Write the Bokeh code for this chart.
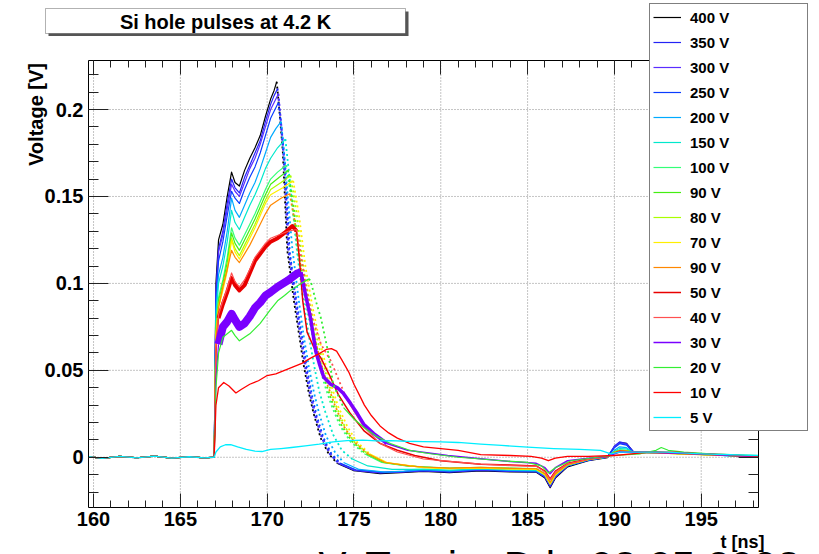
import math
from bokeh.plotting import figure
from bokeh.models import (Range1d, LinearAxis, SingleIntervalTicker, CustomJSTickFormatter,
                          Label, BoxAnnotation, Legend, LegendItem)
from bokeh.embed import file_html
from bokeh.resources import INLINE

# ---------------- data ----------------
LABELS = ["400 V", "350 V", "300 V", "250 V", "200 V", "150 V", "100 V", "90 V", "80 V",
          "70 V", "90 V", "50 V", "40 V", "30 V", "20 V", "10 V", "5 V"]
COLORS = ["#000000", "#2323f5", "#5a2dff", "#0a3cff", "#00aaff", "#00e8cc", "#33ff77", "#44ee11",
          "#aaff00", "#ffee00", "#ff8800", "#e80000", "#ff5050", "#7a00ff", "#33ee33", "#ff0000", "#00eeff"]

X_TICKS = [160, 165, 170, 175, 180, 185, 190, 195]
Y_TICKS = [0.0, 0.05, 0.1, 0.15, 0.2]

BASE_T = [159.71, 160.5, 161.5, 162.5, 163.5, 164.5, 165.5, 166.4, 166.9]
BASE_V = [0.0004, -0.0006, 0.0005, -0.0003, 0.0006, -0.0005, 0.0003, -0.0004, 0.0]

PT = [166.95, 167.05, 167.2, 167.45, 167.7, 167.95, 168.15, 168.4, 168.7, 169.0, 169.3, 169.6, 169.9, 170.2]
TA = [179.0, 180.5, 182.3, 184.0, 185.5, 186.0, 186.3, 186.6, 187.3, 188.5, 189.6, 190.0, 190.3,
      190.7, 191.1, 192.0, 193.5, 195.0, 196.5, 198.3]

T400 = PT + [170.4, 170.55, 170.7, 170.9, 171.16, 171.54, 171.83, 172.12, 172.4, 172.68, 173.08, 173.54, 174.05, 175.0, 176.5, 177.7] + TA
V400 = [0.0, 0.100, 0.125, 0.134, 0.150, 0.164, 0.158, 0.156, 0.165, 0.172, 0.178, 0.185, 0.196, 0.206,
        0.211, 0.216, 0.200, 0.176, 0.119, 0.090, 0.071, 0.052, 0.037, 0.025, 0.011, 0.002, -0.0036, -0.0077, -0.0094, -0.0088,
        -0.0082, -0.0088, -0.0078, -0.0084, -0.0086, -0.012, -0.0175, -0.012, -0.0055, -0.002, -0.0002, 0.006, 0.0085, 0.008,
        0.003, 0.003, 0.0025, 0.002, 0.0012, 0.0005]

T350 = PT + [170.4, 170.6, 170.75, 170.95, 171.2, 171.6, 171.9, 172.2, 172.45, 172.75, 173.15, 173.6, 174.1, 175.0, 176.5, 177.7] + TA
V350 = [0.0, 0.095, 0.120, 0.130, 0.146, 0.160, 0.155, 0.152, 0.161, 0.168, 0.175, 0.182, 0.193, 0.203,
        0.208, 0.212, 0.196, 0.172, 0.120, 0.090, 0.070, 0.051, 0.037, 0.024, 0.011, 0.002, -0.0035, -0.0075, -0.009, -0.0085,
        -0.0078, -0.0085, -0.0075, -0.0082, -0.0084, -0.0115, -0.017, -0.0115, -0.005, -0.0018, 0.0, 0.0065, 0.0088, 0.0078,
        0.0032, 0.0028, 0.0024, 0.0018, 0.001, 0.0004]

T300 = PT + [170.45, 170.65, 170.8, 171.0, 171.25, 171.65, 171.95, 172.25, 172.5, 172.8, 173.2, 173.65, 174.15, 175.05, 176.5, 177.7] + TA
V300 = [0.0, 0.093, 0.118, 0.128, 0.143, 0.157, 0.153, 0.150, 0.158, 0.166, 0.172, 0.180, 0.190, 0.200,
        0.205, 0.209, 0.193, 0.170, 0.120, 0.090, 0.070, 0.051, 0.037, 0.024, 0.011, 0.002, -0.0034, -0.0074, -0.0088, -0.0084,
        -0.0076, -0.0083, -0.0072, -0.0080, -0.0082, -0.011, -0.0165, -0.011, -0.005, -0.0016, 0.0002, 0.006, 0.0082, 0.0074,
        0.003, 0.003, 0.0022, 0.0017, 0.001, 0.0003]

T250 = PT + [170.45, 170.65, 170.85, 171.05, 171.3, 171.7, 172.0, 172.3, 172.55, 172.85, 173.25, 173.7, 174.2, 175.1, 176.6, 177.8] + TA
V250 = [0.0, 0.090, 0.113, 0.124, 0.139, 0.153, 0.149, 0.146, 0.154, 0.161, 0.167, 0.175, 0.185, 0.195,
        0.200, 0.204, 0.188, 0.166, 0.118, 0.089, 0.070, 0.051, 0.037, 0.024, 0.011, 0.002, -0.0033, -0.0072, -0.0086, -0.0082,
        -0.0074, -0.008, -0.007, -0.0078, -0.008, -0.0105, -0.016, -0.0105, -0.0048, -0.0015, 0.0003, 0.0055, 0.0078, 0.007,
        0.0028, 0.0028, 0.0022, 0.0016, 0.0009, 0.0003]

T200 = PT + [170.5, 170.8, 171.1, 171.45, 171.8, 172.1, 172.4, 172.7, 173.0, 173.4, 173.9, 174.4, 175.3, 176.8, 177.9] + TA
V200 = [0.0, 0.085, 0.105, 0.115, 0.130, 0.149, 0.142, 0.138, 0.145, 0.152, 0.158, 0.166, 0.175, 0.184,
        0.189, 0.193, 0.160, 0.120, 0.092, 0.070, 0.052, 0.037, 0.025, 0.012, 0.003, -0.003, -0.007, -0.0085, -0.008,
        -0.0072, -0.0078, -0.0068, -0.0075, -0.0078, -0.0105, -0.0155, -0.0105, -0.0048, -0.0015, 0.0, 0.004, 0.006, 0.0055,
        0.0028, 0.0027, 0.0022, 0.0016, 0.0009, 0.0003]

T150 = PT + [170.6, 171.05, 171.35, 171.7, 172.05, 172.4, 172.7, 173.0, 173.35, 173.8, 174.3, 174.9, 175.8, 177.2, 178.3] + TA
V150 = [0.0, 0.080, 0.100, 0.110, 0.124, 0.142, 0.135, 0.131, 0.138, 0.145, 0.151, 0.158, 0.166, 0.172,
        0.178, 0.183, 0.155, 0.120, 0.092, 0.070, 0.053, 0.038, 0.026, 0.013, 0.004, -0.001, -0.005, -0.007, -0.007,
        -0.0068, -0.0074, -0.0066, -0.0072, -0.0076, -0.010, -0.015, -0.010, -0.0045, -0.0014, 0.0, 0.0035, 0.005, 0.0048,
        0.0028, 0.0027, 0.0022, 0.0016, 0.0009, 0.0003]

T100 = PT + [170.6, 171.1, 171.45, 171.8, 172.2, 172.6, 172.95, 173.3, 173.7, 174.2, 174.8, 175.6, 176.6, 178.0] + TA
V100 = [0.0, 0.075, 0.092, 0.102, 0.115, 0.132, 0.126, 0.122, 0.128, 0.134, 0.140, 0.147, 0.154, 0.160,
        0.164, 0.168, 0.145, 0.115, 0.090, 0.070, 0.055, 0.042, 0.030, 0.018, 0.009, 0.002, -0.003, -0.005,
        -0.0055, -0.0062, -0.0058, -0.0062, -0.0065, -0.0095, -0.0145, -0.0095, -0.004, -0.0012, 0.0005, 0.003, 0.0042, 0.004,
        0.003, 0.0028, 0.0022, 0.0017, 0.001, 0.0004]

T90A = PT + [170.7, 171.2, 171.55, 171.9, 172.3, 172.7, 173.05, 173.4, 173.8, 174.3, 174.9, 175.7, 176.7, 178.1] + TA
V90A = [0.0, 0.073, 0.090, 0.100, 0.112, 0.129, 0.123, 0.119, 0.125, 0.131, 0.137, 0.144, 0.151, 0.157,
        0.161, 0.165, 0.142, 0.113, 0.089, 0.070, 0.055, 0.042, 0.030, 0.018, 0.009, 0.002, -0.003, -0.005,
        -0.0056, -0.0064, -0.006, -0.0064, -0.0066, -0.0098, -0.015, -0.0098, -0.0042, -0.0012, 0.0004, 0.003, 0.004, 0.0038,
        0.0029, 0.0027, 0.0022, 0.0016, 0.001, 0.0004]

T80 = PT + [170.8, 171.35, 171.7, 172.05, 172.45, 172.85, 173.2, 173.55, 173.95, 174.45, 175.0, 175.8, 176.8, 178.2] + TA
V80 = [0.0, 0.071, 0.088, 0.098, 0.109, 0.126, 0.120, 0.116, 0.122, 0.128, 0.134, 0.141, 0.148, 0.154,
       0.158, 0.162, 0.140, 0.112, 0.088, 0.069, 0.055, 0.042, 0.030, 0.018, 0.009, 0.002, -0.003, -0.005,
       -0.0058, -0.0065, -0.006, -0.0066, -0.0068, -0.01, -0.0152, -0.01, -0.0043, -0.0013, 0.0003, 0.0028, 0.0038, 0.0036,
       0.0028, 0.0026, 0.0021, 0.0016, 0.001, 0.0004]

T70 = PT + [170.9, 171.5, 171.85, 172.2, 172.6, 173.0, 173.35, 173.7, 174.1, 174.6, 175.15, 175.9, 176.9, 178.3] + TA
V70 = [0.0, 0.070, 0.086, 0.096, 0.107, 0.125, 0.118, 0.114, 0.120, 0.126, 0.132, 0.139, 0.146, 0.151,
       0.155, 0.159, 0.138, 0.110, 0.087, 0.068, 0.054, 0.041, 0.029, 0.018, 0.009, 0.002, -0.003, -0.005,
       -0.006, -0.0066, -0.0062, -0.0068, -0.007, -0.0102, -0.0155, -0.0102, -0.0044, -0.0013, 0.0003, 0.0027, 0.0036, 0.0035,
       0.0027, 0.0026, 0.0021, 0.0015, 0.001, 0.0004]

T90B = PT + [170.8, 171.3, 171.6, 171.95, 172.35, 172.75, 173.1, 173.5, 173.9, 174.4, 175.0, 175.8, 176.8, 178.2] + TA
V90B = [0.0, 0.068, 0.086, 0.098, 0.108, 0.119, 0.115, 0.112, 0.117, 0.122, 0.128, 0.134, 0.140, 0.145,
        0.149, 0.1516, 0.135, 0.108, 0.086, 0.068, 0.054, 0.041, 0.030, 0.018, 0.009, 0.002, -0.003, -0.005,
        -0.0056, -0.0063, -0.0058, -0.0064, -0.0066, -0.0095, -0.0145, -0.0095, -0.0042, -0.0012, 0.0003, 0.0028, 0.0037, 0.0036,
        0.0028, 0.0026, 0.0021, 0.0015, 0.001, 0.0004]

T50 = PT + [170.6, 171.0, 171.45, 171.7, 171.85, 172.05, 172.3, 172.7, 173.1, 173.6, 174.1, 174.8, 175.6, 176.5, 177.5, 178.5,
            180.0, 182.3, 184.0, 185.5, 186.0, 186.3, 186.6, 187.3, 188.5, 189.6, 190.3, 191.1, 192.0, 193.5, 195.0, 196.5, 198.3]
V50 = [0.0, 0.060, 0.080, 0.088, 0.095, 0.103, 0.099, 0.096, 0.099, 0.106, 0.113, 0.117, 0.121, 0.124,
       0.126, 0.129, 0.133, 0.130, 0.115, 0.090, 0.072, 0.063, 0.057, 0.047, 0.036, 0.025, 0.015, 0.008, 0.004, 0.001,
       -0.002, -0.004, -0.0045, -0.005, -0.008, -0.0125, -0.008, -0.0035, -0.001, 0.0005, 0.0035, 0.003, 0.003, 0.0025,
       0.002, 0.0012, 0.0005]

T40 = PT + [170.7, 171.2, 171.7, 171.9, 172.2, 172.6, 173.1, 173.66, 174.1, 174.6, 175.6, 176.5, 177.5, 179.0,
            182.3, 184.0, 185.5, 186.0, 186.3, 186.6, 187.3, 188.5, 189.6, 190.3, 191.1, 192.0, 193.5, 195.0, 196.5, 198.3]
V40 = [0.0, 0.062, 0.082, 0.090, 0.097, 0.106, 0.101, 0.098, 0.102, 0.108, 0.115, 0.119, 0.123, 0.126,
       0.128, 0.130, 0.131, 0.119, 0.100, 0.080, 0.065, 0.0556, 0.045, 0.033, 0.017, 0.008, 0.003, -0.001,
       -0.004, -0.0048, -0.0052, -0.0085, -0.013, -0.0085, -0.0038, -0.0012, 0.0004, 0.0034, 0.003, 0.0029, 0.0025,
       0.0019, 0.0012, 0.0005]

T30 = PT + [170.6, 171.2, 171.7, 171.95, 172.2, 172.5, 172.8, 173.0, 173.26, 173.66, 174.05, 174.4, 174.8, 175.2, 175.56,
            176.14, 176.9, 178.1, 180.4, 182.3, 184.0, 185.5, 186.0, 186.3, 186.6, 187.3, 188.5, 189.6, 190.3, 191.1, 192.0,
            193.5, 195.0, 196.5, 198.3]
V30 = [0.0, 0.045, 0.065, 0.075, 0.078, 0.0825, 0.079, 0.075, 0.077, 0.081, 0.086, 0.089, 0.093, 0.095,
       0.098, 0.1017, 0.1055, 0.1065, 0.094, 0.080, 0.061, 0.054, 0.046, 0.042, 0.040, 0.0366, 0.031, 0.025, 0.019,
       0.0136, 0.0079, 0.004, 0.001, -0.0008, -0.0025, -0.0035, -0.006, -0.0095, -0.006, -0.002, -0.0005, 0.0005, 0.003,
       0.0028, 0.0028, 0.0024, 0.0019, 0.0012, 0.0005]

T20 = PT + [170.6, 171.0, 171.35, 171.93, 172.4, 172.5, 172.8, 173.1, 173.5, 173.8, 174.4, 175.0, 175.6, 176.3, 177.1,
            178.2, 179.4, 181.0, 182.3, 183.5, 185.0, 185.8, 186.2, 186.6, 187.5, 189.0, 190.0, 191.5, 192.4, 192.7, 193.1,
            194.0, 195.5, 198.3]
V20 = [0.0, 0.040, 0.060, 0.069, 0.071, 0.073, 0.070, 0.067, 0.069, 0.071, 0.074, 0.077, 0.081, 0.085,
       0.090, 0.093, 0.096, 0.0998, 0.1026, 0.1016, 0.090, 0.080, 0.061, 0.042, 0.0286, 0.022, 0.017, 0.012, 0.0079,
       0.004, 0.002, 0.0, -0.001, -0.002, -0.003, -0.005, -0.009, -0.006, -0.002, 0.0, 0.001, 0.002, 0.004, 0.0056,
       0.004, 0.003, 0.002, 0.001]

T10 = [166.95, 167.05, 167.2, 167.5, 167.8, 168.2, 168.5, 169.0, 169.5, 170.0, 170.5, 171.0, 171.5, 172.0, 172.5, 173.0,
       173.4, 173.7, 174.0, 174.3, 174.7, 175.0, 175.3, 175.6, 176.0, 176.5, 177.0, 177.5, 178.2, 179.0, 180.0, 181.0,
       182.3, 184.0, 185.2, 185.8, 186.2, 186.6, 187.3, 188.5, 190.0, 191.0, 192.0, 193.5, 195.0, 196.5, 198.3]
V10 = [0.0, 0.030, 0.040, 0.043, 0.041, 0.037, 0.039, 0.042, 0.044, 0.047, 0.048, 0.050, 0.052, 0.054, 0.057, 0.0596,
       0.062, 0.0625, 0.061, 0.056, 0.049, 0.042, 0.036, 0.030, 0.024, 0.018, 0.014, 0.011, 0.008, 0.006, 0.005, 0.004,
       0.0015, 0.001, 0.0005, -0.0005, -0.002, -0.0005, 0.0005, 0.0005, 0.001, 0.002, 0.003, 0.003, 0.002, 0.0015, 0.0005]

T5 = [166.95, 167.05, 167.3, 167.6, 167.9, 168.3, 168.8, 169.3, 169.7, 170.2, 170.8, 171.4, 172.2, 173.0, 173.8, 174.6,
      175.5, 176.3, 177.1, 178.0, 179.0, 180.0, 181.0, 182.3, 183.5, 185.0, 186.5, 188.0, 189.2, 189.8, 190.3, 191.5,
      193.0, 195.0, 198.3]
V5 = [0.0, 0.003, 0.006, 0.0072, 0.0073, 0.006, 0.0045, 0.0035, 0.0033, 0.0045, 0.005, 0.0056, 0.0065, 0.0075, 0.0088,
      0.0096, 0.0098, 0.0094, 0.0096, 0.0092, 0.009, 0.0088, 0.0085, 0.0075, 0.0068, 0.0058, 0.005, 0.0045, 0.004, 0.002,
      0.003, 0.003, 0.003, 0.002, 0.001]

SERIES_T = [T400, T350, T300, T250, T200, T150, T100, T90A, T80, T70, T90B, T50, T40, T30, T20, T10, T5]
SERIES_V = [V400, V350, V300, V250, V200, V150, V100, V90A, V80, V70, V90B, V50, V40, V30, V20, V10, V5]

# ---------------- styling ----------------
INF = 1e9
DOT = "2 3"
SEGS = [
    [(-INF, 170.55, 1.2, None), (170.55, 174.05, 1.8, DOT), (174.05, INF, 1.2, None)],
    [(-INF, 170.6, 1.2, None), (170.6, 174.1, 1.8, DOT), (174.1, INF, 1.2, None)],
    [(-INF, 170.65, 1.2, None), (170.65, 174.15, 1.8, DOT), (174.15, INF, 1.2, None)],
    [(-INF, 170.65, 1.2, None), (170.65, 174.2, 1.8, DOT), (174.2, INF, 1.2, None)],
    [(-INF, 170.8, 1.2, None), (170.8, 174.4, 1.8, DOT), (174.4, INF, 1.2, None)],
    [(-INF, 171.05, 1.2, None), (171.05, 174.9, 1.8, DOT), (174.9, INF, 1.2, None)],
    [(-INF, 171.1, 1.2, None), (171.1, 175.6, 1.8, DOT), (175.6, INF, 1.2, None)],
    [(-INF, 171.2, 1.2, None), (171.2, 175.7, 1.8, DOT), (175.7, INF, 1.2, None)],
    [(-INF, 171.35, 1.2, None), (171.35, 175.8, 1.8, DOT), (175.8, INF, 1.2, None)],
    [(-INF, 171.5, 1.2, None), (171.5, 175.9, 1.8, DOT), (175.9, INF, 1.2, None)],
    [(-INF, 171.3, 1.2, None), (171.3, 175.8, 1.8, DOT), (175.8, INF, 1.2, None)],
    [(-INF, 167.2, 1.2, None), (167.2, 171.7, 4.0, None), (171.7, INF, 1.5, None)],
    [(-INF, 171.7, 1.2, None), (171.7, 174.6, 1.8, DOT), (174.6, INF, 1.2, None)],
    [(-INF, 167.2, 1.2, None), (167.2, 171.95, 8.0, None), (171.95, 176.9, 3.5, None), (176.9, INF, 1.5, None)],
    [(-INF, 172.4, 1.2, None), (172.4, 174.4, 1.8, DOT), (174.4, INF, 1.2, None)],
    [(-INF, INF, 1.3, None)],
    [(-INF, INF, 1.3, None)],
]

# ---------------- layout (pixels of the 819x554 page) ----------------
W, H = 819, 554
FL, FT, FW, FH = 88, 60, 670, 447          # data frame: left, top, width, height
X0, X1 = 159.71, 198.3                     # time shown inside the frame
Y0, Y1 = -0.0289, 0.2282                   # voltage shown inside the frame
XA = X0 - FL / FW * (X1 - X0)
XB = X1 + (W - FL - FW) / FW * (X1 - X0)
YB = Y1 + FT / FH * (Y1 - Y0)
YA = Y0 - (H - FT - FH) / FH * (Y1 - Y0)

FONT = "Liberation Sans"

# the canvas itself uses pixel ranges (y downward) so annotations are never clipped
p = figure(width=W, height=H, x_range=Range1d(0, W), y_range=Range1d(H, 0),
           x_axis_location=None, y_axis_location=None,
           output_backend="svg", toolbar_location=None,
           min_border_left=0, min_border_right=0, min_border_top=0, min_border_bottom=0)
p.grid.visible = False
p.background_fill_color = "white"
p.border_fill_color = "white"
p.outline_line_color = None
p.extra_x_ranges = {"t": Range1d(XA, XB)}
p.extra_y_ranges = {"v": Range1d(YA, YB)}

xt = SingleIntervalTicker(interval=5, num_minor_ticks=5)
yt = SingleIntervalTicker(interval=0.05, num_minor_ticks=5)
yfmt = CustomJSTickFormatter(code="if (Math.abs(tick) < 1e-9) { return '0'; } return String(Number(tick.toFixed(3)));")

# dotted grid at the major ticks
p.segment(x0=X_TICKS, y0=[Y0] * len(X_TICKS), x1=X_TICKS, y1=[Y1] * len(X_TICKS),
          x_range_name="t", y_range_name="v", line_color="#8a8a8a", line_dash="1 2", line_width=1)
p.segment(x0=[X0] * len(Y_TICKS), y0=Y_TICKS, x1=[X1] * len(Y_TICKS), y1=Y_TICKS,
          x_range_name="t", y_range_name="v", line_color="#8a8a8a", line_dash="1 2", line_width=1)


def xaxis(loc, fixed, labels):
    ax = LinearAxis(x_range_name="t", y_range_name="v", fixed_location=fixed, bounds=(X0, X1),
                    ticker=xt, axis_line_color=None,
                    major_tick_in=14, major_tick_out=0, minor_tick_in=7, minor_tick_out=0,
                    major_tick_line_color="#222222", minor_tick_line_color="#222222",
                    major_label_text_font=FONT, major_label_text_font_style="bold",
                    major_label_text_font_size="20px" if labels else "0px",
                    major_label_text_color="black", major_label_standoff=4)
    p.add_layout(ax, loc)


def yaxis(loc, fixed, labels):
    ax = LinearAxis(x_range_name="t", y_range_name="v", fixed_location=fixed, bounds=(Y0, Y1),
                    ticker=yt, formatter=yfmt, axis_line_color=None,
                    major_tick_in=20, major_tick_out=0, minor_tick_in=10, minor_tick_out=0,
                    major_tick_line_color="#222222", minor_tick_line_color="#222222",
                    major_label_text_font=FONT, major_label_text_font_style="bold",
                    major_label_text_font_size="20px" if labels else "0px",
                    major_label_text_color="black", major_label_standoff=5)
    p.add_layout(ax, loc)


xaxis("below", Y0, True)
xaxis("above", Y1, False)
yaxis("left", X0, True)
yaxis("right", X1, False)

# ---------------- traces ----------------
legend_renderers = []
for lab, col, ts, vs, segs in zip(LABELS, COLORS, SERIES_T, SERIES_V, SEGS):
    t = BASE_T + ts
    v = BASE_V + vs
    last = None
    for lo, hi, w, dash in segs:
        xs = [a for a in t if lo <= a <= hi]
        ys = [b for a, b in zip(t, v) if lo <= a <= hi]
        if dash:
            r = p.line(xs, ys, line_color=col, line_width=w, line_dash=dash,
                       x_range_name="t", y_range_name="v")
        else:
            r = p.line(xs, ys, line_color=col, line_width=w, line_join="round",
                       x_range_name="t", y_range_name="v")
            last = r
    legend_renderers.append(last)

# frame border
p.quad(left=[X0], right=[X1], bottom=[Y0], top=[Y1], fill_color=None, line_color="black",
       line_width=1, x_range_name="t", y_range_name="v")

# ---------------- legend ----------------
legend = Legend(items=[LegendItem(label=l, renderers=[r]) for l, r in zip(LABELS, legend_renderers)],
                location=(649, H - 431))
legend.border_line_color = "black"
legend.border_line_width = 1
legend.background_fill_color = "white"
legend.background_fill_alpha = 1.0
legend.label_text_font = FONT
legend.label_text_font_style = "bold"
legend.label_text_font_size = "15px"
legend.label_text_color = "black"
legend.glyph_width = 28
legend.glyph_height = 20
legend.label_height = 20
legend.label_width = 114
legend.label_standoff = 9
legend.spacing = 5
legend.padding = 3
legend.margin = 0
p.add_layout(legend)

# ---------------- title box and texts ----------------
p.add_layout(BoxAnnotation(left=48, right=408, top=11, bottom=35.5,
                           fill_color="#555555", fill_alpha=1, line_color=None))
p.add_layout(BoxAnnotation(left=45, right=405, top=8, bottom=33,
                           fill_color="white", fill_alpha=1, line_color="black", line_width=1))
p.add_layout(Label(x=225, y=21, text="Si hole pulses at 4.2 K", text_align="center",
                   text_baseline="middle", text_font=FONT, text_font_style="bold",
                   text_font_size="20px", text_color="black"))
p.add_layout(Label(x=35, y=114, text="Voltage [V]", angle=math.pi / 2, text_align="center",
                   text_baseline="middle", text_font=FONT, text_font_style="bold",
                   text_font_size="20px", text_color="black"))
p.add_layout(Label(x=318, y=542, text="V. Tumin, D.k. 08.05.2008", text_align="left",
                   text_baseline="top", text_font=FONT, text_font_size="42px", text_color="black"))
p.add_layout(Label(x=764, y=541, text="t [ns]", text_align="right",
                   text_baseline="alphabetic", text_font=FONT, text_font_style="bold",
                   text_font_size="18px", text_color="black"))

open("out.html", "w").write(file_html(p, INLINE))
